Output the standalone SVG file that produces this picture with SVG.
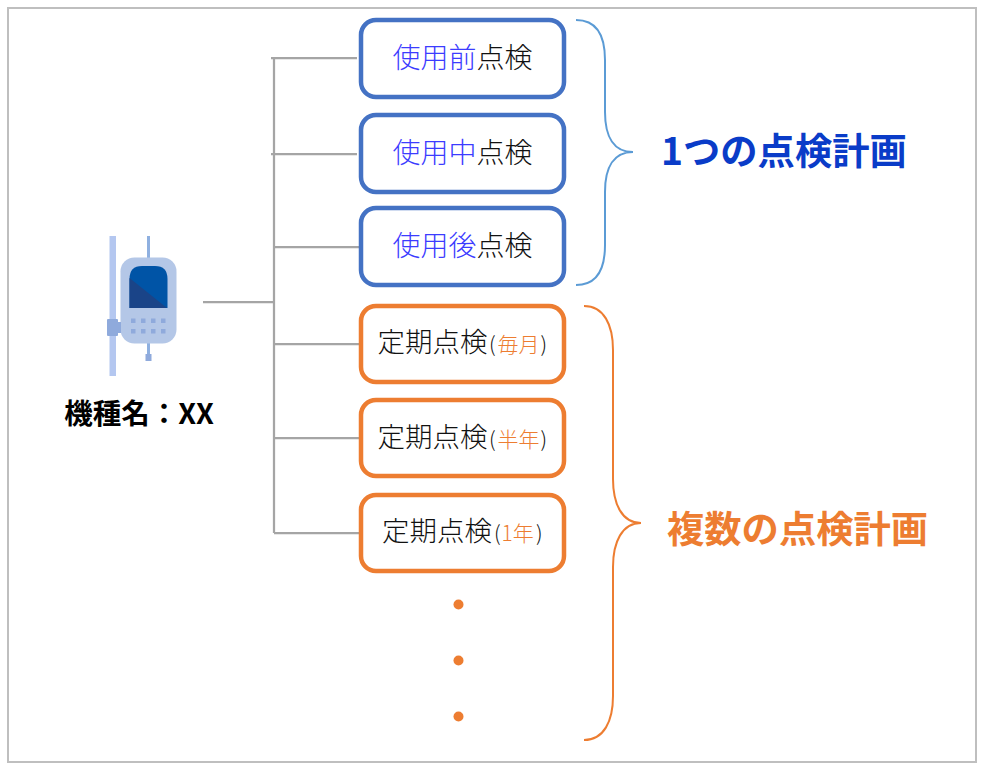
<svg xmlns="http://www.w3.org/2000/svg" width="983" height="768" viewBox="0 0 983 768">
<style>
text{font-family:"Noto Sans CJK JP","Noto Sans",sans-serif}
.c{fill:none;stroke:#a5a5a5;stroke-width:2.250}
.b{fill:#fff;stroke:#4472c4;stroke-width:4.500}
.o{fill:#fff;stroke:#ed7d31;stroke-width:4.500}
.l{font-size:28px;font-weight:300;fill:#111}
.m{font-size:27.500px;font-weight:300;fill:#111}
.s{font-size:21px;font-weight:300;fill:#ed7d31}
.p{font-size:21px;font-weight:300;fill:#111}
.u{fill:#3c3cff}
.h{font-size:37.300px;font-weight:700}
.d{fill:#ed7d31}
</style>
<rect x="8" y="8" width="968" height="754" fill="#fff" stroke="#bfbfbf" stroke-width="2"/>
<g id="connectors">
<path class="c" d="M274 58V533M271 58H357M271 154H357M274 247H360M203 302H274M274 344H360M274 438H360M274 533H360"/>
</g>
<g id="device">
<rect x="109.500" y="236" width="6.500" height="140" fill="#b4c7f0"/>
<rect x="147" y="236" width="3" height="24" fill="#8fb0e0"/>
<rect x="147" y="342" width="3" height="14" fill="#8fb0e0"/>
<rect x="145.500" y="354" width="6" height="7" fill="#8faadc"/>
<rect x="120.500" y="257.500" width="56" height="86" rx="14" fill="#b4c7e7"/>
<path d="M129.500 308V279Q129.500 266 142 266H155Q167.500 266 167.500 279V308Z" fill="#0054a6"/>
<path d="M129.500 308V278L167 308Z" fill="#1a4488"/>
<rect x="107" y="319" width="11" height="17" rx="1" fill="#8faadc"/>
<rect x="116" y="322" width="5" height="11" fill="#8faadc"/>
<g fill="#8faadc"><rect x="131" y="318.500" width="4.500" height="4.500"/><rect x="141" y="318.500" width="4.500" height="4.500"/><rect x="151" y="318.500" width="4.500" height="4.500"/><rect x="161" y="318.500" width="4.500" height="4.500"/><rect x="131" y="329" width="4.500" height="4.500"/><rect x="141" y="329" width="4.500" height="4.500"/><rect x="151" y="329" width="4.500" height="4.500"/><rect x="161" y="329" width="4.500" height="4.500"/></g>
<text x="139" y="424" text-anchor="middle" font-size="28.500" font-weight="700" fill="#000">機種名：XX</text>
</g>
<g id="n1"><rect class="b" x="361" y="20" width="203" height="77" rx="15"/><text class="l" x="392.500" y="67.500"><tspan class="u">使用前</tspan>点検</text></g>
<g id="n2"><rect class="b" x="361" y="115" width="203" height="77" rx="15"/><text class="l" x="392.500" y="162.500"><tspan class="u">使用中</tspan>点検</text></g>
<g id="n3"><rect class="b" x="361" y="208" width="203" height="77" rx="15"/><text class="l" x="392.500" y="255.500"><tspan class="u">使用後</tspan>点検</text></g>
<g id="n4"><rect class="o" x="361" y="306" width="203" height="76" rx="15"/><text class="m" x="377.500" y="352">定期点検<tspan class="p" x="489" y="352">(</tspan><tspan class="s" x="497.500" y="352">毎月</tspan><tspan class="p" x="540.500" y="352">)</tspan></text></g>
<g id="n5"><rect class="o" x="361" y="400" width="203" height="76" rx="15"/><text class="m" x="377.500" y="447">定期点検<tspan class="p" x="489" y="447">(</tspan><tspan class="s" x="497.500" y="447">半年</tspan><tspan class="p" x="540.500" y="447">)</tspan></text></g>
<g id="n6"><rect class="o" x="361" y="495" width="203" height="76" rx="15"/><text class="m" x="382" y="541">定期点検<tspan class="p" x="494" y="541">(</tspan><tspan class="s" x="501.500" y="541">1年</tspan><tspan class="p" x="536" y="541">)</tspan></text></g>
<g id="brace1"><path d="M576 20C596 20 605 35 605 60V112C605 137 614 152 633 152C614 152 605 167 605 192V245C605 270 596 285 576 285" fill="none" stroke="#5b9bd5" stroke-width="2"/><text class="h" x="661" y="165" fill="#0a3cc8">1つの点検計画</text></g>
<g id="brace2"><path d="M584 306C604 306 613 325 613 350V479C613 504 622 523 641 523C622 523 613 542 613 567V696C613 721 604 740 584 740" fill="none" stroke="#ed7d31" stroke-width="2"/><text class="h" x="667" y="543" fill="#ed7d31">複数の点検計画</text></g>
<g id="dots"><circle class="d" cx="458.500" cy="604.500" r="5"/><circle class="d" cx="458.500" cy="660.500" r="5"/><circle class="d" cx="458.500" cy="716.500" r="5"/></g>
</svg>
